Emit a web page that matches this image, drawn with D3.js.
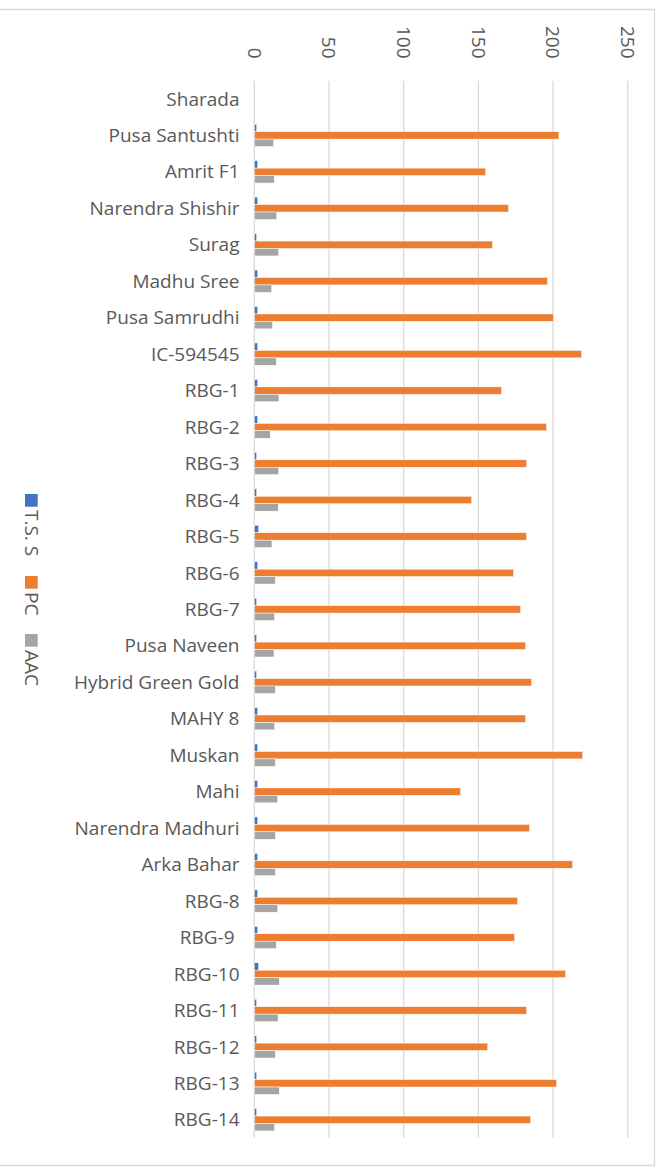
<!DOCTYPE html>
<html>
<head>
<meta charset="utf-8">
<script src="https://cdn.jsdelivr.net/npm/d3@7/dist/d3.min.js"></script>
<style>
  html, body { margin: 0; padding: 0; background: #fff; }
  svg { display: block; }
  text { font-family: "Open Sans", "Noto Sans", sans-serif; fill: #595959; }
</style>
</head>
<body>
<svg id="chart" width="656" height="1167"></svg>
<script>
// Varieties, top to bottom
const categories = [
  "Sharada", "Pusa Santushti", "Amrit F1", "Narendra Shishir", "Surag",
  "Madhu Sree", "Pusa Samrudhi", "IC-594545", "RBG-1", "RBG-2", "RBG-3",
  "RBG-4", "RBG-5", "RBG-6", "RBG-7", "Pusa Naveen", "Hybrid Green Gold",
  "MAHY 8", "Muskan", "Mahi", "Narendra Madhuri", "Arka Bahar", "RBG-8",
  "RBG-9 ", "RBG-10", "RBG-11", "RBG-12", "RBG-13", "RBG-14"
];

const seriesNames = ["T.S. S", "PC", "AAC"];
const seriesColors = ["#4472C4", "#ED7D31", "#A5A5A5"];

// Total soluble solids
const tss = [null, 1.6, 2.3, 2.3, 1.6, 2.3, 2.3, 2.3, 2.3, 2.3, 1.6,
  1.6, 2.9, 2.3, 1.6, 1.6, 1.6, 2.3, 2.3, 2.3, 2.3, 2.3, 2.3,
  2.3, 2.9, 1.6, 1.6, 1.6, 1.6];

// PC
const pc = [null, 203.9, 154.8, 170.2, 159.5, 196.3, 200.3, 219.1, 165.5, 195.7, 182.3,
  145.5, 182.3, 173.6, 178.3, 181.6, 185.6, 181.6, 219.8, 138.1, 184.3, 213.1, 176.3,
  174.3, 208.4, 182.3, 156.2, 202.4, 185.0];

// AAC
const aac = [null, 13.0, 13.4, 15.0, 16.3, 11.6, 12.3, 14.7, 16.5, 10.7, 16.3,
  16.0, 11.8, 14.1, 13.6, 13.2, 14.1, 13.6, 14.1, 15.7, 14.1, 14.1, 15.7,
  14.7, 16.7, 15.9, 14.1, 16.7, 13.6];

const tickValues = [0, 50, 100, 150, 200, 250];

const svg = d3.select("#chart");

// Chart frame
const frame = svg.append("g").attr("fill", "none").attr("stroke", "#d9d9d9").attr("stroke-width", 1.3);
frame.append("path").attr("d", "M-2,9.5H654.5V1165.5H-2");

const plot = { left: 254.3, right: 627.8, top: 80.7, bottom: 1138 };

const x = d3.scaleLinear().domain([0, 250]).range([plot.left, plot.right]);
const y = d3.scaleBand().domain(categories).range([plot.top, plot.bottom]).paddingInner(0.387).paddingOuter(0.1935);
const ySub = d3.scaleBand().domain(seriesNames).range([0, y.bandwidth()]).padding(0);

// Vertical gridlines
svg.append("g").selectAll("line").data(tickValues).join("line")
  .attr("x1", d => x(d)).attr("x2", d => x(d))
  .attr("y1", plot.top).attr("y2", plot.bottom)
  .attr("stroke", "#d9d9d9").attr("stroke-width", 1.3);

// Value axis labels, rotated
svg.append("g").selectAll("text").data(tickValues).join("text")
  .attr("transform", d => `translate(${x(d)},58.5) rotate(90)`)
  .attr("text-anchor", "end")
  .attr("dy", "0.35em")
  .attr("font-size", 19)
  .text(d => d);

// Bars
const series = [tss, pc, aac];
const barG = svg.append("g");
series.forEach((vals, si) => {
  barG.append("g").selectAll("rect")
    .data(categories.map((c, i) => ({ c, v: vals[i] })).filter(d => d.v != null))
    .join("rect")
    .attr("x", x(0))
    .attr("y", d => y(d.c) + ySub(seriesNames[si]))
    .attr("width", d => x(d.v) - x(0))
    .attr("height", ySub.bandwidth())
    .attr("fill", seriesColors[si])
    .attr("stroke", "#fff")
    .attr("stroke-width", 0.5);
});

// Category labels
svg.append("g").selectAll("text").data(categories).join("text")
  .attr("x", 239.5)
  .attr("y", d => y(d) + y.bandwidth() / 2)
  .attr("dy", "0.35em")
  .attr("text-anchor", "end")
  .attr("font-size", 19)
  .attr("xml:space", "preserve")
  .style("white-space", "pre")
  .text(d => d);

// Legend, rotated
const legendPos = [494, 576, 634];
const legend = svg.append("g");
seriesNames.forEach((name, i) => {
  legend.append("rect")
    .attr("x", 25).attr("y", legendPos[i])
    .attr("width", 12.7).attr("height", 12.7)
    .attr("fill", seriesColors[i]);
  legend.append("text")
    .attr("transform", `translate(31.3,${legendPos[i] + 16}) rotate(90)`)
    .attr("dy", "0.35em")
    .attr("font-size", 19)
    .text(name);
});
</script>
</body>
</html>
